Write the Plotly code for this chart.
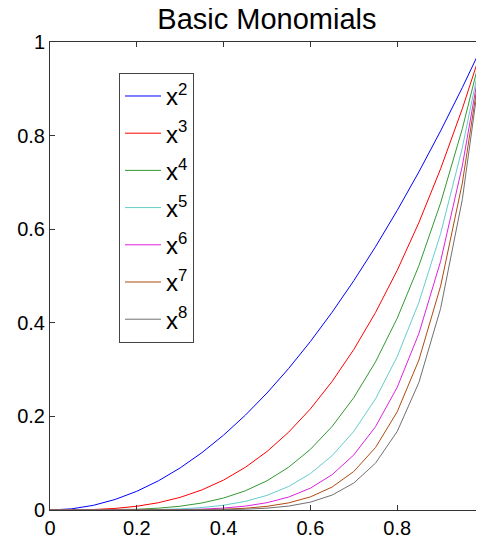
import plotly.graph_objects as go

x_vals = [0, 0.05, 0.1, 0.15, 0.2, 0.25, 0.3, 0.35, 0.4, 0.45, 0.5,
          0.55, 0.6, 0.65, 0.7, 0.75, 0.8, 0.85, 0.9, 0.95, 1]

y_x2 = [0, 0.0025, 0.01, 0.0225, 0.04, 0.0625, 0.09, 0.1225, 0.16, 0.2025, 0.25,
        0.3025, 0.36, 0.4225, 0.49, 0.5625, 0.64, 0.7225, 0.81, 0.9025, 1]
y_x3 = [0, 0.000125, 0.001, 0.003375, 0.008, 0.015625, 0.027, 0.042875, 0.064, 0.091125, 0.125,
        0.166375, 0.216, 0.274625, 0.343, 0.421875, 0.512, 0.614125, 0.729, 0.857375, 1]
y_x4 = [0, 0.0000063, 0.0001, 0.000506, 0.0016, 0.003906, 0.0081, 0.015006, 0.0256, 0.041006, 0.0625,
        0.091506, 0.1296, 0.178506, 0.2401, 0.316406, 0.4096, 0.522006, 0.6561, 0.814506, 1]
y_x5 = [0, 0.0000003, 0.00001, 0.000076, 0.00032, 0.000977, 0.00243, 0.005252, 0.01024, 0.018453, 0.03125,
        0.050328, 0.07776, 0.116029, 0.16807, 0.237305, 0.32768, 0.443705, 0.59049, 0.773781, 1]
y_x6 = [0, 0.0, 0.000001, 0.0000114, 0.000064, 0.000244, 0.000729, 0.001838, 0.004096, 0.008304, 0.015625,
        0.027681, 0.046656, 0.075419, 0.117649, 0.177979, 0.262144, 0.37715, 0.531441, 0.735092, 1]
y_x7 = [0, 0.0, 0.0000001, 0.0000017, 0.0000128, 0.000061, 0.000219, 0.000643, 0.001638, 0.003737, 0.007813,
        0.015224, 0.027994, 0.049022, 0.082354, 0.133484, 0.209715, 0.320577, 0.478297, 0.698337, 1]
y_x8 = [0, 0.0, 0.0, 0.0000003, 0.0000026, 0.0000153, 0.0000656, 0.000225, 0.000655, 0.001682, 0.003906,
        0.008373, 0.016796, 0.031864, 0.057648, 0.100113, 0.167772, 0.272491, 0.430467, 0.66342, 1]

series_names = ["x<sup>2</sup>", "x<sup>3</sup>", "x<sup>4</sup>", "x<sup>5</sup>",
                "x<sup>6</sup>", "x<sup>7</sup>", "x<sup>8</sup>"]
series_values = [y_x2, y_x3, y_x4, y_x5, y_x6, y_x7, y_x8]
series_colors = ["#0000FF", "#FF0000", "#339933", "#66CCCC", "#DD22DD", "#B04A10", "#707070"]

x_ticks = [0, 0.2, 0.4, 0.6, 0.8, 1]
y_ticks = [0, 0.2, 0.4, 0.6, 0.8, 1]
x_tick_text = ["0", "0.2", "0.4", "0.6", "0.8", "1"]
y_tick_text = ["0", "0.2", "0.4", "0.6", "0.8", "1"]

FONT = "Arial, Liberation Sans, Helvetica, sans-serif"

fig = go.Figure()
for i, (name, vals, col) in enumerate(zip(series_names, series_values, series_colors)):
    fig.add_trace(go.Scatter(x=x_vals, y=vals, mode="lines", name=name,
                             legendgroup="g%d" % i,
                             line=dict(color=col, width=1)))

axis_common = dict(
    showgrid=False, zeroline=False, showline=True, linecolor="#333333", linewidth=1,
    mirror="ticks", ticks="inside", ticklen=5, tickcolor="#333333", automargin=False,
    tickfont=dict(family=FONT, size=20, color="black"),
)

fig.update_layout(
    width=476, height=534,
    margin=dict(l=42, r=0, t=34, b=32),
    paper_bgcolor="white", plot_bgcolor="white",
    title=dict(text="Basic Monomials", x=0.544, xanchor="center", y=0.9795, yanchor="middle",
               font=dict(family=FONT, size=29, color="black")),
    xaxis=dict(range=[0, 1], tickvals=x_ticks, ticktext=x_tick_text, **axis_common),
    yaxis=dict(range=[0, 1], tickvals=y_ticks, ticktext=y_tick_text, **axis_common),
    legend=dict(x=0.159, y=0.934, xanchor="left", yanchor="top",
                bgcolor="white", bordercolor="#444444", borderwidth=1,
                font=dict(family=FONT, size=24, color="black"),
                tracegroupgap=3, itemwidth=36),
    showlegend=True,
)

fig.write_html("out.html")
